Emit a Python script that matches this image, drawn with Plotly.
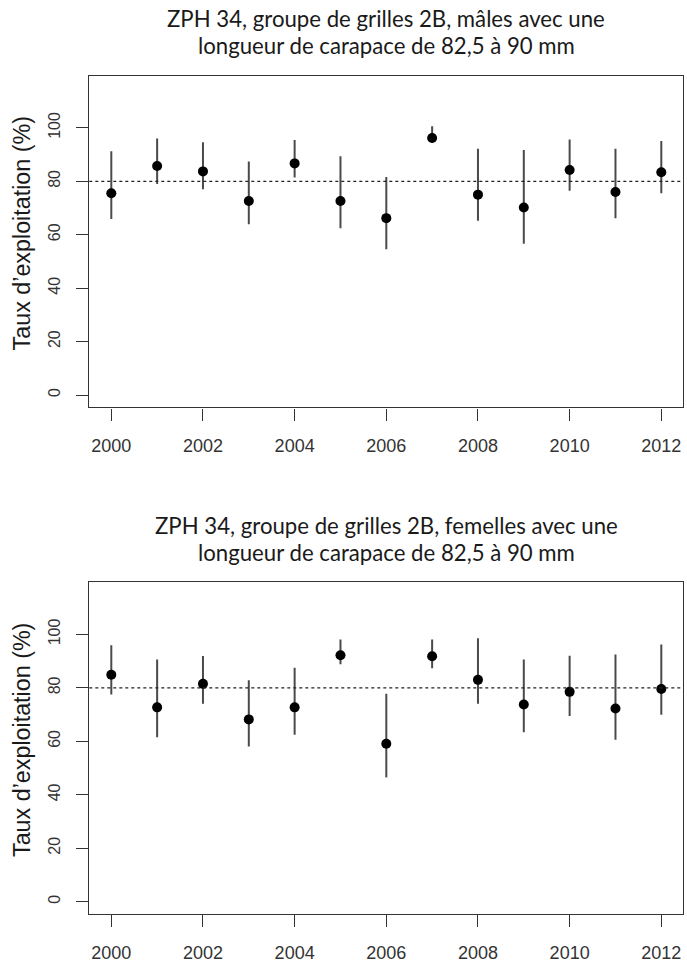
import plotly.graph_objects as go

# Exploitation rate by year (%), point estimate with lower/upper bounds
years = [2000, 2001, 2002, 2003, 2004, 2005, 2006, 2007, 2008, 2009, 2010, 2011, 2012]

males_rate = [75.5, 85.7, 83.7, 72.6, 86.7, 72.6, 66.2, 96.2, 75.0, 70.2, 84.2, 76.0, 83.4]
males_low = [65.9, 79.0, 77.0, 63.9, 81.4, 62.4, 54.6, 94.4, 65.2, 56.6, 76.5, 66.2, 75.5]
males_high = [91.2, 96.0, 94.6, 87.4, 95.5, 89.4, 81.6, 100.6, 92.2, 91.7, 95.6, 92.2, 95.1]

females_rate = [84.9, 72.7, 81.5, 68.2, 72.7, 92.2, 59.1, 91.8, 83.0, 73.8, 78.5, 72.3, 79.6]
females_low = [77.5, 61.5, 74.1, 58.1, 62.5, 88.8, 46.5, 87.3, 74.1, 63.4, 69.5, 60.6, 69.9]
females_high = [95.9, 90.6, 91.9, 82.8, 87.5, 98.1, 77.8, 98.1, 98.6, 90.6, 92.0, 92.5, 96.2]

reference_rate = 80

titles = [
    ("ZPH 34, groupe de grilles 2B, mâles avec une",
     "longueur de carapace de 82,5 à 90 mm"),
    ("ZPH 34, groupe de grilles 2B, femelles avec une",
     "longueur de carapace de 82,5 à 90 mm"),
]
y_title = "Taux d’exploitation (%)"
x_ticks = [2000, 2002, 2004, 2006, 2008, 2010, 2012]
y_ticks = [0, 20, 40, 60, 80, 100]

W, H = 687, 966
TITLE_FONT = "Lato, 'Open Sans', sans-serif"
AXIS_FONT = "'Liberation Sans', Arial, sans-serif"

fig = go.Figure()

panels = [
    (males_rate, males_low, males_high, "x", "y"),
    (females_rate, females_low, females_high, "x2", "y2"),
]

for rate, low, high, xa, ya in panels:
    fig.add_trace(go.Scatter(
        x=years, y=rate, mode="markers",
        marker=dict(color="black", size=10, line=dict(width=0)),
        error_y=dict(
            type="data", symmetric=False,
            array=[h - r for h, r in zip(high, rate)],
            arrayminus=[r - l for r, l in zip(rate, low)],
            color="#4a4a4a", thickness=2, width=0,
        ),
        xaxis=xa, yaxis=ya, showlegend=False, hoverinfo="skip",
    ))

# plot boxes in pixels: (top, bottom)
x_left, x_right = 89.3, 683.3
boxes = [(75.5, 407.3), (582.0, 914.0)]

common_x = dict(
    range=[1999.52, 2012.48], tickmode="array", tickvals=x_ticks,
    ticks="outside", ticklen=12, tickwidth=1.3, tickcolor="#333",
    showline=True, linecolor="#333", linewidth=1.4, mirror=True,
    showgrid=False, zeroline=False,
    tickfont=dict(family=AXIS_FONT, size=18, color="#333"),
    ticklabelstandoff=10,
)
common_y = dict(
    range=[-4.6, 119.6], tickmode="array", tickvals=y_ticks,
    ticks="outside", ticklen=12, tickwidth=1.3, tickcolor="#333",
    showline=True, linecolor="#333", linewidth=1.4, mirror=True,
    showgrid=False, zeroline=False, tickangle=-90,
    tickfont=dict(family=AXIS_FONT, size=16, color="#333"),
    ticklabelstandoff=10,
)

xdom = [x_left / W, x_right / W]
layout_axes = {}
for i, (top, bottom) in enumerate(boxes):
    sfx = "" if i == 0 else str(i + 1)
    ydom = [1 - bottom / H, 1 - top / H]
    layout_axes["xaxis" + sfx] = dict(common_x, domain=xdom, anchor="y" + sfx)
    layout_axes["yaxis" + sfx] = dict(common_y, domain=ydom, anchor="x" + sfx)

    # reference level line
    fig.add_shape(
        type="line", xref=("x" + sfx) + " domain", yref="y" + sfx,
        x0=0, x1=1, y0=reference_rate, y1=reference_rate,
        line=dict(color="#222", width=1.3, dash="dot"),
    )

    # two-line panel title
    line1, line2 = titles[i]
    cx = (x_left + x_right) / 2 / W
    for txt, base in ((line1, top - 41.5), (line2, top - 14.0)):
        fig.add_annotation(
            text=txt, xref="paper", yref="paper",
            x=cx, y=1 - base / H, xanchor="center", yanchor="bottom",
            showarrow=False,
            font=dict(family=TITLE_FONT, size=22.2, color="#1a1a1a"),
        )

    # y axis title
    fig.add_annotation(
        text=y_title, xref="paper", yref="paper",
        x=22 / W, y=1 - ((top + bottom) / 2 - 8) / H,
        xanchor="center", yanchor="middle", textangle=-90,
        showarrow=False,
        font=dict(family=AXIS_FONT, size=23.3, color="#1a1a1a"),
    )

fig.update_layout(
    width=W, height=H,
    margin=dict(l=0, r=0, t=0, b=0),
    paper_bgcolor="white", plot_bgcolor="white",
    **layout_axes,
)

fig.write_html("out.html")
